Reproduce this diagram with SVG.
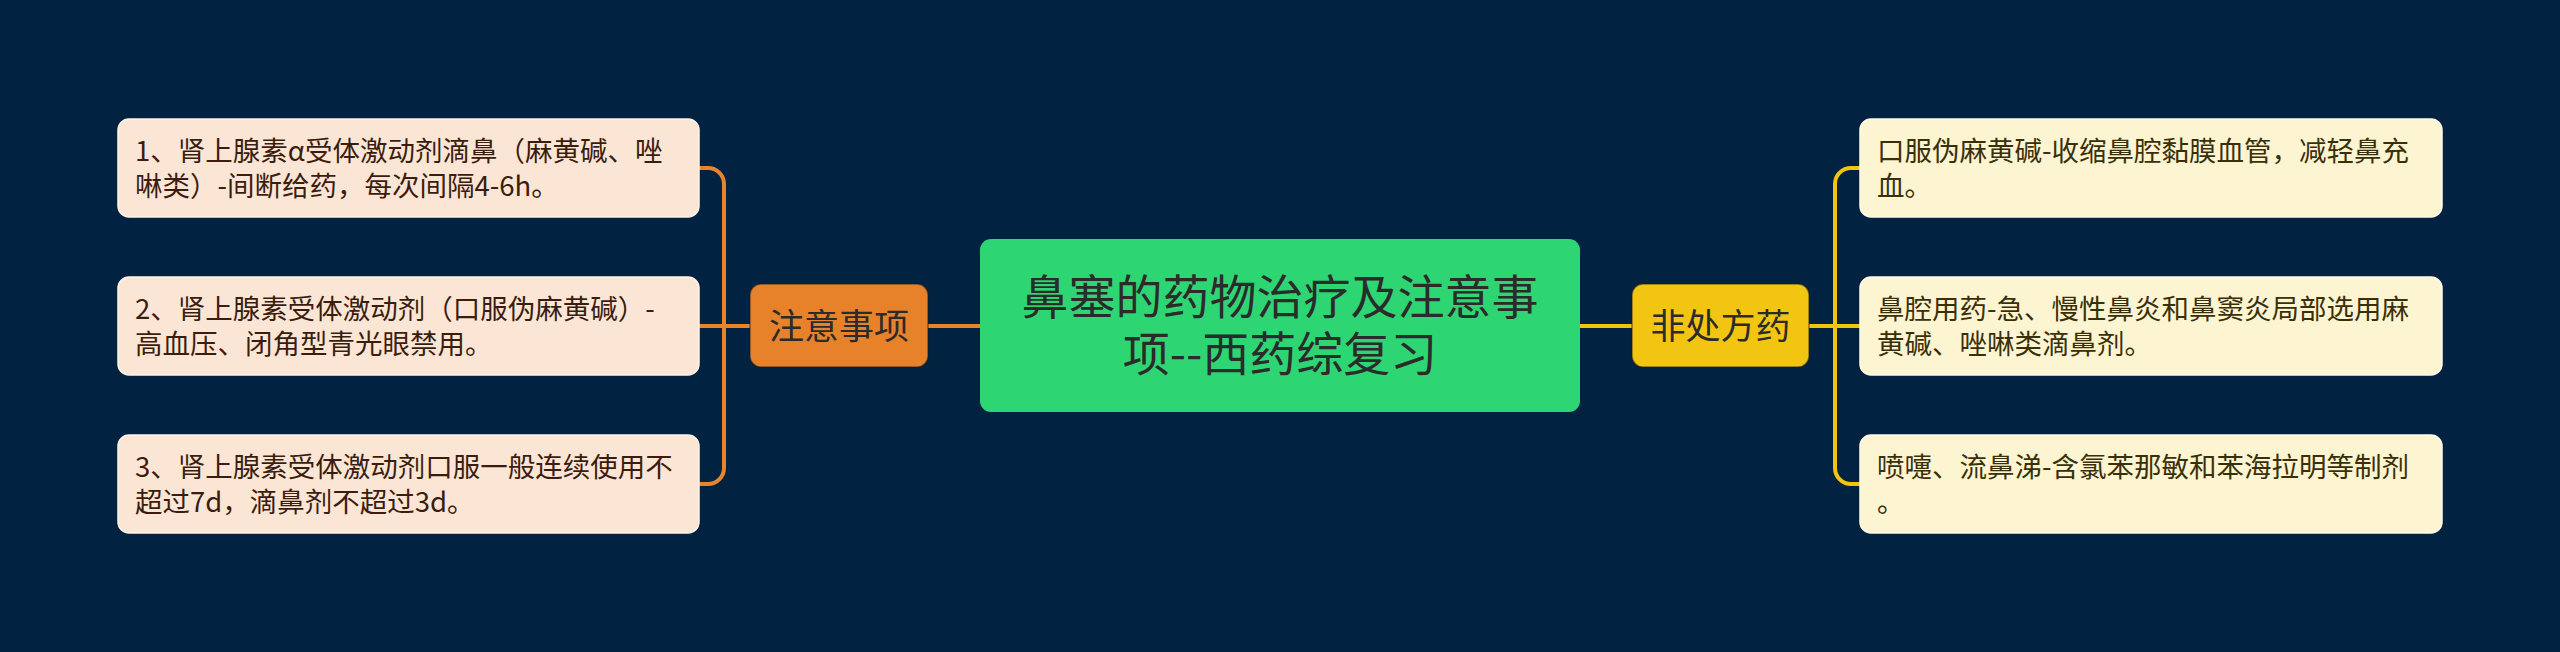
<svg xmlns="http://www.w3.org/2000/svg" width="2560" height="652" viewBox="0 0 2560 652">
<style>
.t{font-family:"Noto Sans CJK SC","Noto Sans",sans-serif}
.lb{fill:#fbe6d6;stroke:#fff3e8;stroke-width:1.5}
.rb{fill:#fdf4d2;stroke:#fffae6;stroke-width:1.5}
.lt{font-size:27.5px;fill:#3b1d0e}
.rt{font-size:27.5px;fill:#3a3008}
.oc{fill:none;stroke:#e8842a;stroke-width:4}
.yc{fill:none;stroke:#f1c40f;stroke-width:4}
.mid{font-size:35px;fill:#2b2b2b;text-anchor:middle}
.ct{font-size:47px;fill:#2b2b2b;text-anchor:middle}
</style>
<rect x="0" y="0" width="2560" height="652" fill="#012240"/>
<g id="connectors">
<path class="oc" d="M980 326 H928"/>
<path class="oc" d="M750 326 H699"/>
<path class="oc" d="M699 168 H708 A16 16 0 0 1 724 184 V468 A16 16 0 0 1 708 484 H699"/>
<path class="yc" d="M1580 326 H1632"/>
<path class="yc" d="M1809 326 H1860"/>
<path class="yc" d="M1860 168 H1851 A16 16 0 0 0 1835 184 V468 A16 16 0 0 0 1851 484 H1860"/>
</g>
<g id="root">
<rect x="980" y="239" width="600" height="173" rx="11" fill="#2ed573"/>
<text class="t ct" x="1280" y="314">鼻塞的药物治疗及注意事</text>
<text class="t ct" x="1280" y="371">项--西药综复习</text>
</g>
<g id="zhuyi">
<rect x="750" y="284" width="178" height="83" rx="11" fill="#e8822a" stroke="#1a1a1a" stroke-opacity="0.5" stroke-width="1.5"/>
<text class="t mid" x="839" y="339">注意事项</text>
</g>
<g id="feichufang">
<rect x="1632" y="284" width="177" height="83" rx="11" fill="#f1c511" stroke="#1a1a1a" stroke-opacity="0.5" stroke-width="1.5"/>
<text class="t mid" x="1720.5" y="339">非处方药</text>
</g>
<g id="l1">
<rect class="lb" x="118" y="119" width="581" height="98" rx="11"/>
<text class="t lt" x="135" y="161">1、肾上腺素α受体激动剂滴鼻（麻黄碱、唑</text>
<text class="t lt" x="135" y="196">啉类）-间断给药，每次间隔4-6h。</text>
</g>
<g id="l2">
<rect class="lb" x="118" y="277" width="581" height="98" rx="11"/>
<text class="t lt" x="135" y="319">2、肾上腺素受体激动剂（口服伪麻黄碱）-</text>
<text class="t lt" x="135" y="354">高血压、闭角型青光眼禁用。</text>
</g>
<g id="l3">
<rect class="lb" x="118" y="435" width="581" height="98" rx="11"/>
<text class="t lt" x="135" y="477">3、肾上腺素受体激动剂口服一般连续使用不</text>
<text class="t lt" x="135" y="512">超过7d，滴鼻剂不超过3d。</text>
</g>
<g id="r1">
<rect class="rb" x="1860" y="119" width="582" height="98" rx="11"/>
<text class="t rt" x="1877" y="161">口服伪麻黄碱-收缩鼻腔黏膜血管，减轻鼻充</text>
<text class="t rt" x="1877" y="196">血。</text>
</g>
<g id="r2">
<rect class="rb" x="1860" y="277" width="582" height="98" rx="11"/>
<text class="t rt" x="1877" y="319">鼻腔用药-急、慢性鼻炎和鼻窦炎局部选用麻</text>
<text class="t rt" x="1877" y="354">黄碱、唑啉类滴鼻剂。</text>
</g>
<g id="r3">
<rect class="rb" x="1860" y="435" width="582" height="98" rx="11"/>
<text class="t rt" x="1877" y="477">喷嚏、流鼻涕-含氯苯那敏和苯海拉明等制剂</text>
<text class="t rt" x="1877" y="512">。</text>
</g>
</svg>
